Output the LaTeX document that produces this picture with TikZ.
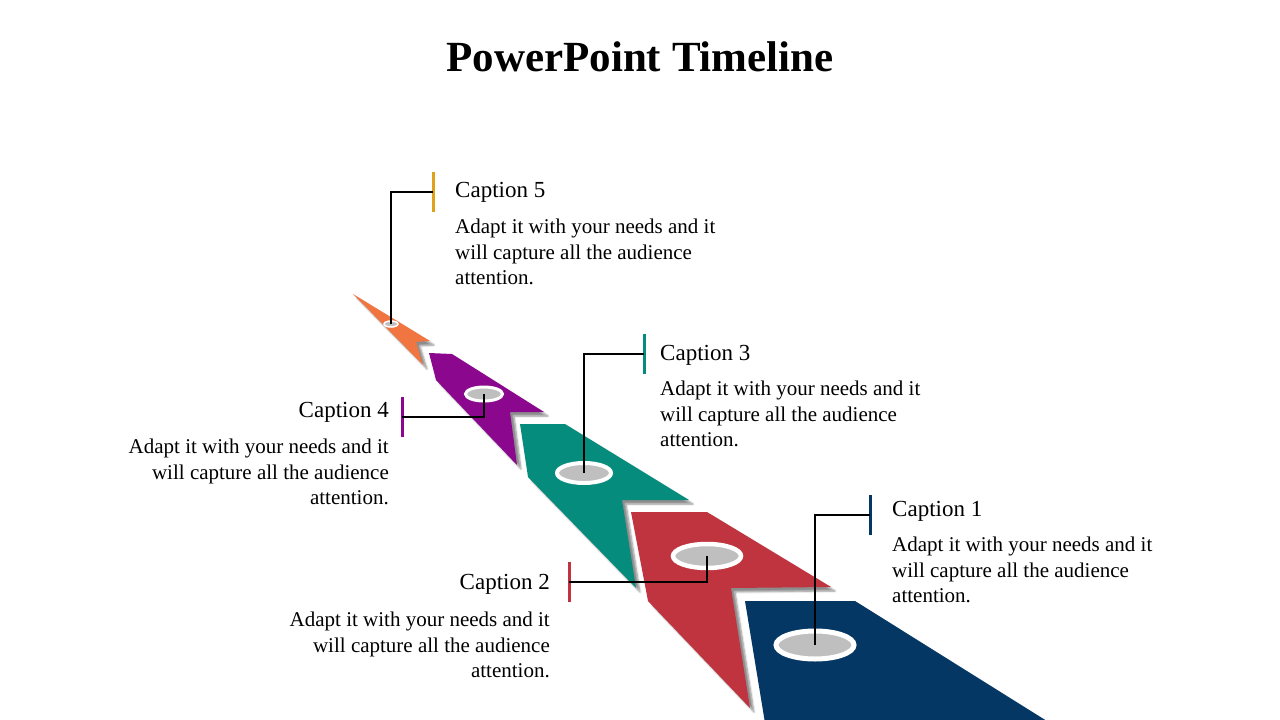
\documentclass[tikz,border=0pt]{standalone}
\usepackage{fontspec}
\setmainfont{Liberation Serif}
\usetikzlibrary{shadows.blur,shapes.geometric}
\definecolor{cnavy}{HTML}{043764}
\definecolor{cred}{HTML}{C0343F}
\definecolor{cteal}{HTML}{068C7C}
\definecolor{cpurple}{HTML}{8B078E}
\definecolor{corange}{HTML}{F07541}
\definecolor{cgold}{HTML}{E0A21B}
\tikzset{
  band/.style={blur shadow={shadow xshift=4pt,shadow yshift=-4pt,shadow blur steps=6,shadow opacity=45}},
  hole/.style={ellipse,draw=white,fill=black!25,inner sep=0pt},
  captext/.style={font=\fontsize{23}{25}\selectfont,inner sep=0pt},
  body/.style={font=\fontsize{21}{25.5}\selectfont,inner sep=0pt},
  leader/.style={line width=1.3pt},
  tick/.style={line width=3pt}
}
\newcommand{\bodytext}{Adapt it with your needs and it\\ will capture all the audience\\ attention.}
\begin{document}
\begin{tikzpicture}[x=1pt,y=-1pt]
  \useasboundingbox (0,0) rectangle (1280,720);
  \clip (0,0) rectangle (1280,720);
  \node[font=\fontsize{43}{45}\bfseries\selectfont] (title) at (640,57) {PowerPoint Timeline};
  % bands
  \fill[cnavy,band] (745,601) -- (855,601) -- (1050,723) -- (765,723) -- cycle;
  \fill[cred,band] (631,512) -- (707,512) -- (831,587) -- (731,588) -- (750,708) -- (648,601) -- cycle;
  \fill[cteal,band] (520,424) -- (565,424) -- (689,500) -- (622,500) -- (636,588) -- (528,477) -- cycle;
  \fill[cpurple,band] (429,353) -- (452,354) -- (544,412) -- (510,412) -- (517,465) -- (436,380) -- cycle;
  \fill[corange,band] (353,294) -- (430,341) -- (416,342) -- (423,365) -- cycle;
  % holes
  \node[hole,line width=5pt,minimum width=78pt,minimum height=28pt] (h1) at (815,645) {};
  \node[hole,line width=4.5pt,minimum width=68pt,minimum height=24pt] (h2) at (707,556) {};
  \node[hole,line width=4pt,minimum width=54pt,minimum height=20pt] (h3) at (584,473) {};
  \node[hole,line width=3pt,minimum width=37pt,minimum height=14pt] (h4) at (484,394) {};
  \node[hole,line width=1.5pt,minimum width=14pt,minimum height=6pt] (h5) at (391,324) {};
  % ticks
  \coordinate (t1) at (870,515);
  \coordinate (t2) at (569,582);
  \coordinate (t3) at (644,354);
  \coordinate (t4) at (402,417);
  \coordinate (t5) at (433,192);
  \draw[tick,cnavy] ([yshift=-20pt]t1) -- ([yshift=20pt]t1);
  \draw[tick,cred] ([yshift=-20pt]t2) -- ([yshift=20pt]t2);
  \draw[tick,cteal] ([yshift=-20pt]t3) -- ([yshift=20pt]t3);
  \draw[tick,cpurple] ([yshift=-20pt]t4) -- ([yshift=20pt]t4);
  \draw[tick,cgold] ([yshift=-20pt]t5) -- ([yshift=20pt]t5);
  % leaders
  \draw[leader] (h1.center) |- (t1);
  \draw[leader] (h2.center) |- (t2);
  \draw[leader] (h3.center) |- (t3);
  \draw[leader] (h4.center) |- (t4);
  \draw[leader] (h5.center) |- (t5);
  % captions
  \node[captext,anchor=west] (c1) at (892,511) {Caption 1};
  \node[captext,anchor=east] (c2) at (550,584) {Caption 2};
  \node[captext,anchor=west] (c3) at (660,355) {Caption 3};
  \node[captext,anchor=east] (c4) at (389,412) {Caption 4};
  \node[captext,anchor=west] (c5) at (455,192) {Caption 5};
  \node[body,anchor=north west,align=left] (b1) at (892,537) {\bodytext};
  \node[body,anchor=north east,align=right] (b2) at (550,612) {\bodytext};
  \node[body,anchor=north west,align=left] (b3) at (660,381) {\bodytext};
  \node[body,anchor=north east,align=right] (b4) at (389,439) {\bodytext};
  \node[body,anchor=north west,align=left] (b5) at (455,219) {\bodytext};
\end{tikzpicture}
\end{document}
